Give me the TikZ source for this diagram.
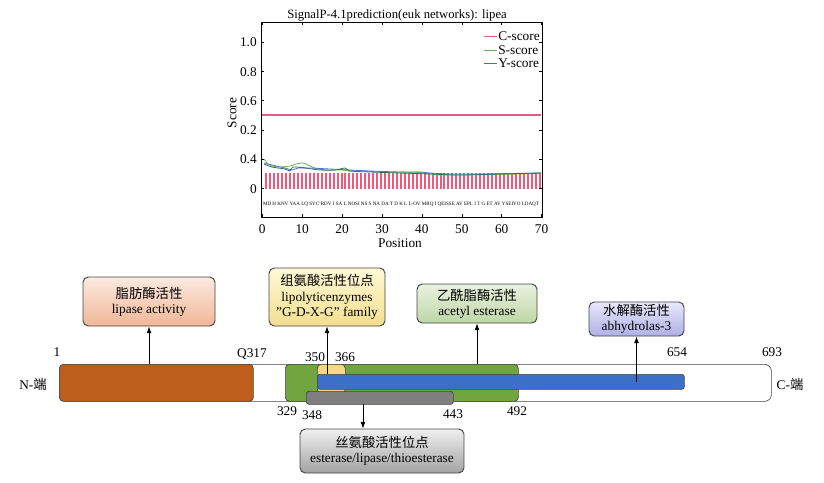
\documentclass[tikz,border=0pt]{standalone}
\usepackage{fontspec}
\setmainfont{Liberation Serif}
\newfontfamily\cjk{Noto Sans CJK SC}
\usetikzlibrary{arrows.meta}
\definecolor{cOrange}{HTML}{BD5E1C}
\definecolor{cGreen}{HTML}{71A53F}
\definecolor{cYellow}{HTML}{F5D785}
\definecolor{cBlue}{HTML}{3C6FC6}
\definecolor{cGray}{HTML}{7F7F7F}
\definecolor{cEdge}{HTML}{444444}
\definecolor{cRed}{HTML}{F05A7A}
\definecolor{cPink}{HTML}{D8608A}
\definecolor{cS}{HTML}{66BB55}
\definecolor{cY}{HTML}{4A78CC}
\definecolor{cT}{HTML}{2F6E6E}
\definecolor{f1t}{HTML}{FCEAE0}\definecolor{f1b}{HTML}{F0B696}
\definecolor{f2t}{HTML}{FFF9D8}\definecolor{f2b}{HTML}{F3DE8E}
\definecolor{f3t}{HTML}{E8F1DE}\definecolor{f3b}{HTML}{BDD7A6}
\definecolor{f4t}{HTML}{E8E8FA}\definecolor{f4b}{HTML}{AEB0E6}
\definecolor{f5t}{HTML}{F0F0F0}\definecolor{f5b}{HTML}{A2A2A2}
\begin{document}
\begin{tikzpicture}[x=0.75pt,y=-0.75pt,
  txt/.style={font=\fontsize{10}{11}\selectfont, inner sep=0pt},
  bar/.style={draw=cEdge, line width=0.5pt, rounded corners=3pt, anchor=north west, inner sep=0pt},
  callout/.style={draw=cEdge, line width=0.7pt, rounded corners=4pt, align=center,
     font=\fontsize{10}{11.5}\selectfont, inner sep=0pt},
  pin/.style={line width=0.5pt, draw=black, -{Latex[length=5pt,width=3.6pt]}},
  tk/.style={line width=0.4pt, draw=black}]
\useasboundingbox (0,0) rectangle (824,482);
\fill[white] (0,0) rectangle (824,482);

% ---------------- plot ----------------
\node[font=\fontsize{9.5}{11}\selectfont] (title) at (397,15) {SignalP-4.1prediction(euk networks): lipea};
\draw[line width=0.5pt] (261,22) rectangle (542,217);
% pink horizontal line
\fill[cPink] (262,114.3) rectangle (541,115.9);
% red bars
\foreach \i in {1,...,70} {
  \fill[cRed] ({262.3+\i*3.96-1},173) rectangle ({262.3+\i*3.96+1},189);
}
% curves
\draw[cS, line width=0.6pt] plot[smooth] coordinates {(264,159) (268,164) (272,166) (280,167) (290,166) (296,164) (303,163) (308,165) (318,169) (330,170) (342,170) (350,171) (365,171) (380,172) (395,172) (420,172.5) (430,174) (440,175) (460,175) (490,174.5) (520,174) (541,173)};
\draw[cY, line width=0.6pt] plot[smooth] coordinates {(264,163) (272,165) (285,168) (292,170) (298,168) (310,168) (330,169) (350,170) (370,171) (400,172) (420,172) (430,173) (450,174) (480,174) (510,173.5) (541,173)};
\draw[cT, line width=0.6pt] plot[smooth] coordinates {(264,164) (272,167) (285,169) (290,171) (293,167) (305,168) (320,170) (335,170) (345,168) (350,171) (370,172) (400,173) (430,174) (460,175) (500,174) (541,173)};
% sequence
\node[inner sep=0pt] (seq) at (401,204) {\resizebox{207pt}{!}{\fontsize{4}{5}\selectfont MD H KNV YAA LQ SYC'RDV I SA L NOSI NS S NA DA T D K L L-OV MRQ I QEISSE AV EPL I T G ET AV YSEIYO LDAQT}};
% y ticks
\foreach \yy/\lab in {42.3/1.0, 71.7/0.8, 100.7/0.6, 130/0.2, 159.3/0.4, 188.7/0} {
  \draw[tk] (261,\yy) -- (264,\yy);
  \draw[tk] (542,\yy) -- (539,\yy);
  \node[txt, anchor=east] at (257,\yy) {\lab};
}
% x ticks
\foreach \k in {0,10,...,70} {
  \draw[tk] ({262.3+\k*3.99},217) -- ({262.3+\k*3.99},214);
  \draw[tk] ({262.3+\k*3.99},22) -- ({262.3+\k*3.99},25);
  \node[txt] at ({262.3+\k*3.99},229) {\k};
}
\node[txt, rotate=90] (ylab) at (232,113) {Score};
\node[txt] (xlab) at (400,243) {Position};
% legend
\draw[cRed, line width=0.6pt] (484,36) -- (497,36);
\draw[cS!70!gray, line width=0.6pt] (484,50) -- (497,50);
\draw[cT!60!gray, line width=0.6pt] (484,63) -- (497,63);
\node[txt, anchor=west] (lc) at (498,36) {C-score};
\node[txt, anchor=west] (ls) at (498,50) {S-score};
\node[txt, anchor=west] (ly) at (498,63) {Y-score};

% ---------------- domain diagram ----------------
\node[bar, fill=white, rounded corners=5pt, minimum width=534pt, minimum height=27.75pt] (backbone) at (59,364) {};
\node[bar, fill=cOrange, minimum width=145.5pt, minimum height=27.75pt] (orange) at (59,364) {};
\node[bar, fill=cGreen, minimum width=174.75pt, minimum height=27.75pt] (green) at (285,364) {};
\node[bar, fill=cYellow, minimum width=21pt, minimum height=21.75pt] (yellow) at (317,364) {};
\node[bar, fill=cBlue, rounded corners=2pt, minimum width=275.25pt, minimum height=11.25pt] (blue) at (317,374) {};
\node[bar, fill=cGray, rounded corners=2pt, minimum width=110.25pt, minimum height=9.75pt] (gray) at (306,391) {};

% position labels
\node[txt] (n1) at (57,352) {1};
\node[txt] (nq) at (252,354) {Q317};
\node[txt] (n350) at (315,357) {350};
\node[txt] (n366) at (345,357) {366};
\node[txt] (n329) at (287,411) {329};
\node[txt] (n348) at (312,415) {348};
\node[txt] (n443) at (453,414) {443};
\node[txt] (n492) at (517,411) {492};
\node[txt] (n654) at (677,352) {654};
\node[txt] (n693) at (772,352) {693};
\node[txt] (nterm) at (33,384) {N-{\cjk 端}};
\node[txt] (cterm) at (790,384) {C-{\cjk 端}};

% callouts
\node[callout, top color=f1t, bottom color=f1b, minimum width=99pt, minimum height=36.75pt] (b1) at (149,301.5) {{\cjk 脂肪酶活性}\\lipase activity};
\node[callout, top color=f2t, bottom color=f2b, minimum width=87pt, minimum height=43.5pt] (b2) at (327,297) {{\cjk 组氨酸活性位点}\\lipolyticenzymes\\\char34 G-D-X-G\char34{} family};
\node[callout, top color=f3t, bottom color=f3b, minimum width=90pt, minimum height=29.25pt] (b3) at (477,303.5) {{\cjk 乙酰脂酶活性}\\acetyl esterase};
\node[callout, top color=f4t, bottom color=f4b, minimum width=71.25pt, minimum height=25.5pt] (b4) at (636.5,319) {{\cjk 水解酶活性}\\abhydrolas-3};
\node[callout, top color=f5t, bottom color=f5b, minimum width=123pt, minimum height=33pt] (b5) at (382,451) {{\cjk 丝氨酸活性位点}\\esterase/lipase/thioesterase};

% connectors
\coordinate (a5) at (363,404);
\draw[pin] (b1.south |- orange.north) -- (b1.south);
\draw[pin] (b2.south |- blue.north) -- (b2.south);
\draw[pin] (b3.south |- green.north) -- (b3.south);
\draw[pin] (b4.south |- blue.center) -- (b4.south);
\draw[pin] (a5) -- (b5.north -| a5);
\end{tikzpicture}
\end{document}
